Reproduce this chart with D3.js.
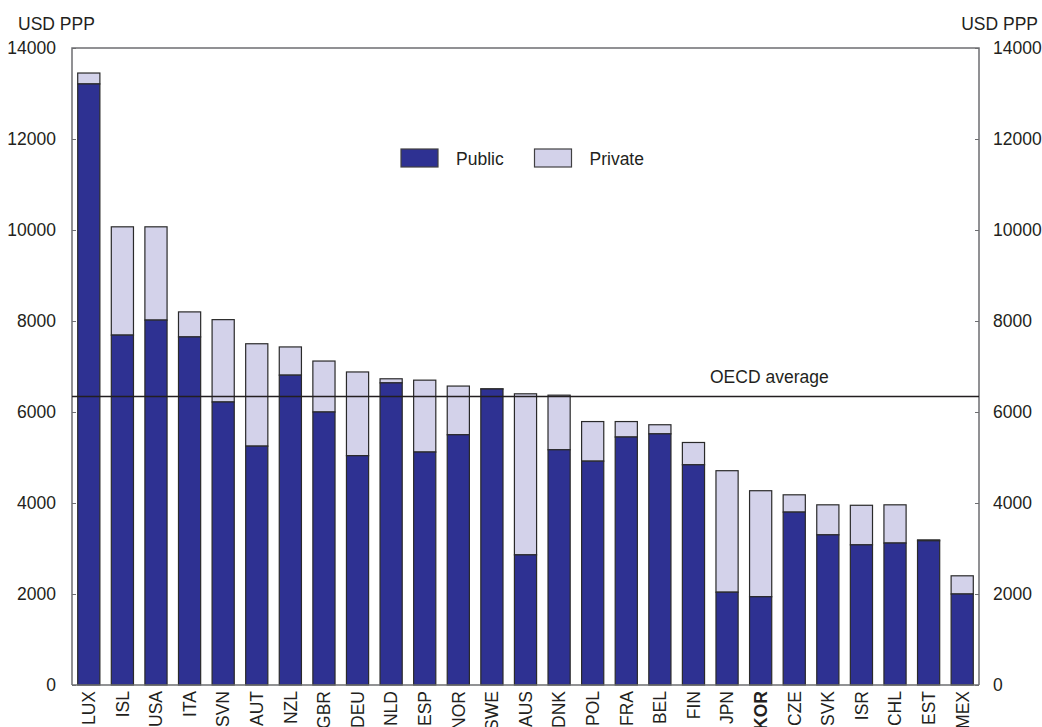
<!DOCTYPE html>
<html lang="en">
<head>
<meta charset="UTF-8">
<title>Expenditure per student</title>
<style>
  body { margin: 0; background: #fff; }
  text { font-family: "Liberation Sans", Arial, sans-serif; fill: #231f20; }
</style>
</head>
<body>
<svg width="1042" height="727"></svg>
<script src="https://d3js.org/d3.v7.min.js"></script>
<script>
var countries = ["LUX","ISL","USA","ITA","SVN","AUT","NZL","GBR","DEU","NLD","ESP","NOR","SWE","AUS",
                 "DNK","POL","FRA","BEL","FIN","JPN","KOR","CZE","SVK","ISR","CHL","EST","MEX"];
var publicSpend = [13210,7690,8020,7650,6220,5250,6810,6000,5040,6640,5120,5500,6505,2860,
                   5170,4920,5450,5520,4840,2040,1940,3800,3300,3080,3120,3170,2000];
var totalSpend = [13450,10070,10070,8200,8030,7500,7430,7120,6880,6730,6700,6570,6510,6400,
                  6370,5790,5790,5720,5330,4710,4270,4180,3960,3950,3960,3190,2400];
var yTicks = [0,2000,4000,6000,8000,10000,12000,14000];
var oecdAverage = 6340;

var svg = d3.select("svg"),
    margin = {top: 48, right: 63, bottom: 42, left: 72};
var width = +svg.attr("width") - margin.left - margin.right;
var height = +svg.attr("height") - margin.top - margin.bottom;

var x = d3.scaleBand().domain(countries).range([0, width]).paddingInner(0.34).paddingOuter(0.17);
var y = d3.scaleLinear().domain([0, 14000]).range([height, 0]);

var g = svg.append("g").attr("transform", "translate(" + margin.left + "," + margin.top + ")");

var rows = countries.map(function(c, i) {
    return {c: c, pub: publicSpend[i], tot: totalSpend[i]};
});

// private part on top
g.selectAll(".priv").data(rows).enter().append("rect")
    .attr("class", "priv")
    .attr("x", function(d) { return x(d.c); })
    .attr("width", x.bandwidth())
    .attr("y", function(d) { return y(d.tot); })
    .attr("height", function(d) { return y(d.pub) - y(d.tot); })
    .attr("fill", "#d3d2ea").attr("stroke", "#2a2a2a").attr("stroke-width", 1.2);

g.selectAll(".pub").data(rows).enter().append("rect")
    .attr("class", "pub")
    .attr("x", function(d) { return x(d.c); })
    .attr("width", x.bandwidth())
    .attr("y", function(d) { return y(d.pub); })
    .attr("height", function(d) { return y(0) - y(d.pub); })
    .attr("fill", "#2e3192").attr("stroke", "#2a2a2a").attr("stroke-width", 1.2);

// frame
g.append("path")
    .attr("d", "M0," + height + "V0H" + width + "V" + height)
    .attr("fill", "none").attr("stroke", "#6d6e71").attr("stroke-width", 1.5);
g.append("line").attr("x1", 0).attr("x2", width).attr("y1", height).attr("y2", height)
    .attr("stroke", "#6d6e71").attr("stroke-width", 1.5);

var leftAxis = d3.axisLeft(y).tickValues(yTicks).tickSize(-4).tickPadding(16).tickFormat(d3.format("d"));
var rightAxis = d3.axisRight(y).tickValues(yTicks).tickSize(-4).tickPadding(14).tickFormat(d3.format("d"));

function styleAxis(sel) {
    sel.select(".domain").remove();
    sel.selectAll(".tick line").attr("stroke", "#6d6e71");
    sel.selectAll(".tick text").style("font-size", "17.5px").attr("fill", "#231f20");
}
g.append("g").call(leftAxis).call(styleAxis);
g.append("g").attr("transform", "translate(" + width + ",0)").call(rightAxis).call(styleAxis);

var xAxis = d3.axisBottom(x).tickSize(0).tickPadding(0);
var xg = g.append("g").attr("transform", "translate(0," + height + ")").call(xAxis);
xg.select(".domain").remove();
xg.selectAll(".tick text")
    .attr("transform", "rotate(-90)")
    .attr("text-anchor", "end")
    .attr("x", -6).attr("y", 0).attr("dy", "0.36em")
    .style("font-size", "17.5px")
    .style("font-weight", function(d) { return d === "KOR" ? "bold" : "normal"; });

// OECD average line
g.append("line")
    .attr("x1", 0).attr("x2", width)
    .attr("y1", y(oecdAverage)).attr("y2", y(oecdAverage))
    .attr("stroke", "#231f20").attr("stroke-width", 1.5);
g.append("text")
    .attr("x", 638).attr("y", y(oecdAverage) - 14)
    .style("font-size", "17.5px")
    .text("OECD average");

// unit labels
svg.append("text").attr("x", 18).attr("y", 30).style("font-size", "17.5px").text("USD PPP");
svg.append("text").attr("x", 1038).attr("y", 30).attr("text-anchor", "end")
    .style("font-size", "17.5px").text("USD PPP");

// legend
var legend = svg.append("g").attr("transform", "translate(401,149)");
var legendItems = [{label: "Public", color: "#2e3192"}, {label: "Private", color: "#d3d2ea"}];
var li = legend.selectAll("g").data(legendItems).enter().append("g")
    .attr("transform", function(d, i) { return "translate(" + (i * 133.5) + ",0)"; });
li.append("rect").attr("width", 37).attr("height", 18)
    .attr("fill", function(d) { return d.color; })
    .attr("stroke", "#414042").attr("stroke-width", 1.2);
li.append("text").attr("x", 55).attr("y", 15.5).style("font-size", "17.5px")
    .text(function(d) { return d.label; });
</script>
</body>
</html>
